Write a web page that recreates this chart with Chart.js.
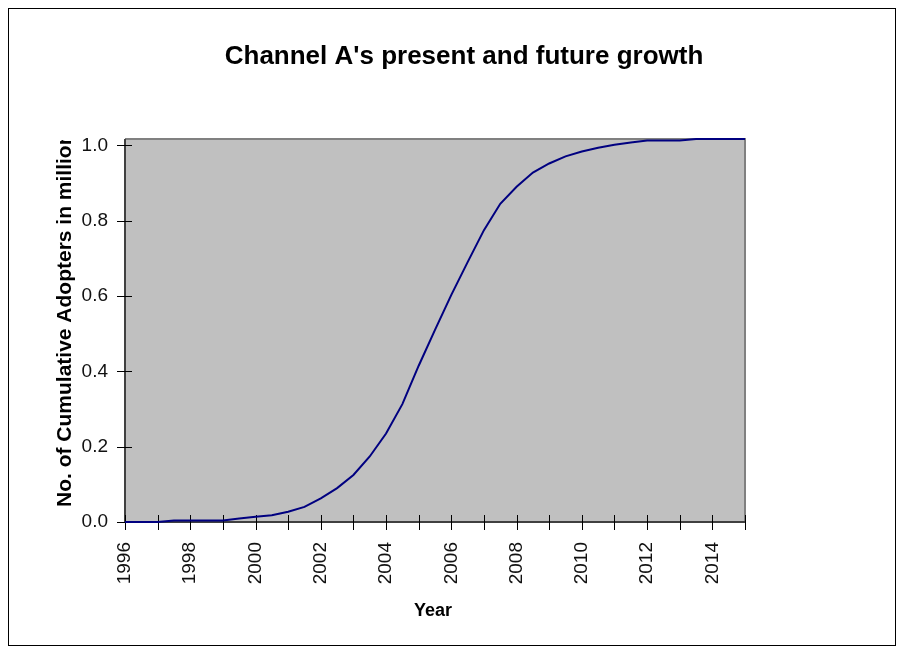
<!DOCTYPE html>
<html>
<head>
<meta charset="utf-8">
<script src="https://cdn.jsdelivr.net/npm/chart.js@4/dist/chart.umd.min.js"></script>
<style>
  html, body { margin: 0; padding: 0; background: #ffffff; }
  #wrap { width: 904px; height: 653px; position: relative; }
</style>
</head>
<body>
<div id="wrap"><canvas id="c" width="904" height="653"></canvas></div>
<script>
// ---- data ----
const chartTitle = "Channel A's present and future growth";
const xAxisTitle = "Year";
const yAxisTitle = "No. of Cumulative Adopters in millions";
const years = [1996, 1996.5, 1997, 1997.5, 1998, 1998.5, 1999, 1999.5, 2000, 2000.5,
               2001, 2001.5, 2002, 2002.5, 2003, 2003.5, 2004, 2004.5, 2005, 2005.5,
               2006, 2006.5, 2007, 2007.5, 2008, 2008.5, 2009, 2009.5, 2010, 2010.5,
               2011, 2011.5, 2012, 2012.5, 2013, 2013.5, 2014, 2014.5, 2015];
const adopters = [0, 0, 0, 0.004, 0.004, 0.004, 0.004, 0.009, 0.014, 0.018,
                  0.027, 0.040, 0.063, 0.090, 0.125, 0.174, 0.235, 0.313, 0.415, 0.510,
                  0.603, 0.690, 0.775, 0.845, 0.890, 0.928, 0.952, 0.971, 0.984, 0.994,
                  1.002, 1.008, 1.013, 1.013, 1.013, 1.017, 1.017, 1.017, 1.017];
const xTickYears = [1996, 1997, 1998, 1999, 2000, 2001, 2002, 2003, 2004, 2005,
                    2006, 2007, 2008, 2009, 2010, 2011, 2012, 2013, 2014, 2015];
const xTickLabels = ['1996', '1998', '2000', '2002', '2004', '2006', '2008', '2010', '2012', '2014'];
const yTickValues = [0, 0.2, 0.4, 0.6, 0.8, 1.0];
const yMax = 1.017;

const FONT = "'Liberation Sans', Arial, sans-serif";

const decor = {
  id: 'decor',
  beforeDatasetsDraw(chart) {
    const ctx = chart.ctx;
    const a = chart.chartArea;
    const xs = chart.scales.x, ys = chart.scales.y;
    ctx.save();
    ctx.fillStyle = '#c0c0c0';
    ctx.fillRect(a.left, a.top, a.right - a.left, a.bottom - a.top);
    ctx.strokeStyle = '#808080';
    ctx.lineWidth = 2;
    ctx.beginPath();
    ctx.moveTo(a.left, a.top); ctx.lineTo(a.right, a.top); ctx.lineTo(a.right, a.bottom);
    ctx.stroke();
    ctx.strokeStyle = '#404040';
    ctx.lineWidth = 2;
    ctx.beginPath();
    ctx.moveTo(a.left, a.top); ctx.lineTo(a.left, a.bottom); ctx.lineTo(a.right, a.bottom);
    ctx.stroke();
    ctx.strokeStyle = '#000000';
    ctx.lineWidth = 1;
    ctx.beginPath();
    xTickYears.forEach(v => {
      const px = Math.round(xs.getPixelForValue(v)) + 0.5;
      ctx.moveTo(px, a.bottom - 7); ctx.lineTo(px, a.bottom + 8);
    });
    yTickValues.forEach(v => {
      const py = Math.round(ys.getPixelForValue(v)) + 0.5;
      ctx.moveTo(a.left - 8, py); ctx.lineTo(a.left + 7, py);
    });
    ctx.stroke();
    ctx.restore();
  },
  afterDraw(chart) {
    const ctx = chart.ctx;
    const a = chart.chartArea;
    ctx.save();
    ctx.strokeStyle = '#000000';
    ctx.lineWidth = 1;
    ctx.strokeRect(8.5, 8.5, 887, 637);
    ctx.fillStyle = '#000000';
    ctx.font = "bold 26px " + FONT;
    ctx.textAlign = 'center';
    ctx.textBaseline = 'middle';
    ctx.fillText(chartTitle, 464, 57);
    ctx.font = "bold 18px " + FONT;
    ctx.fillText(xAxisTitle, 433, 611);
    ctx.save();
    ctx.beginPath();
    ctx.rect(40, a.top + 1, 50, 400);
    ctx.clip();
    ctx.translate(65, 507);
    ctx.rotate(-Math.PI / 2);
    ctx.textAlign = 'left';
    ctx.font = "bold 21px " + FONT;
    ctx.fillText(yAxisTitle, 0, 0);
    ctx.restore();
    ctx.restore();
  }
};

new Chart(document.getElementById('c'), {
  type: 'line',
  data: {
    datasets: [{
      data: years.map((y, i) => ({ x: y, y: adopters[i] })),
      borderColor: '#000080',
      borderWidth: 2,
      pointRadius: 0,
      tension: 0,
      fill: false,
      clip: 4
    }]
  },
  options: {
    responsive: false,
    animation: false,
    devicePixelRatio: 1,
    layout: { padding: { top: 139, right: 159, left: 0, bottom: 0 } },
    plugins: { legend: { display: false }, tooltip: { enabled: false } },
    scales: {
      x: {
        type: 'linear',
        min: 1996, max: 2015,
        afterBuildTicks: s => { s.ticks = xTickYears.map(v => ({ value: v })); },
        afterFit: s => { s.height = 131; },
        grid: { display: false, drawTicks: false },
        border: { display: false },
        ticks: {
          autoSkip: false,
          maxRotation: 90, minRotation: 90,
          padding: 20,
          color: '#111111',
          font: { family: FONT, size: 19 },
          callback: v => xTickLabels.includes(String(v)) ? String(v) : ''
        }
      },
      y: {
        type: 'linear',
        min: 0, max: yMax,
        afterBuildTicks: s => { s.ticks = yTickValues.map(v => ({ value: v })); },
        afterFit: s => { s.width = 125; },
        grid: { display: false, drawTicks: false },
        border: { display: false },
        ticks: {
          padding: 17,
          color: '#111111',
          font: { family: FONT, size: 19 },
          callback: v => Number(v).toFixed(1)
        }
      }
    }
  },
  plugins: [decor]
});
</script>
</body>
</html>
